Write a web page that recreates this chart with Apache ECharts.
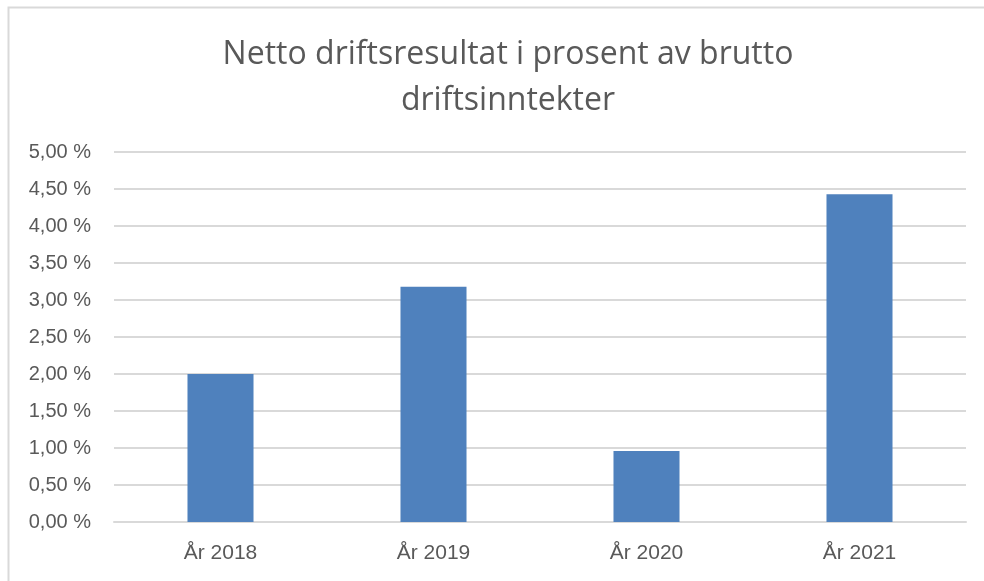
<!DOCTYPE html>
<html>
<head>
<meta charset="utf-8">
<script src="https://cdn.jsdelivr.net/npm/echarts@6/dist/echarts.min.js"></script>
<style>html,body{margin:0;padding:0;background:#fff}#c{width:984px;height:581px}</style>
</head>
<body>
<div id="c"></div>
<script>
const categories = ["År 2018", "År 2019", "År 2020", "År 2021"];
const values = [2.00, 3.18, 0.96, 4.43];
const yTicks = [0, 0.5, 1, 1.5, 2, 2.5, 3, 3.5, 4, 4.5, 5];
const titleText = "Netto driftsresultat i prosent av brutto\ndriftsinntekter";

const chart = echarts.init(document.getElementById('c'), null, {renderer: 'canvas'});
const fmt = v => v.toFixed(2).replace('.', ',') + ' %';
chart.setOption({
  animation: false,
  graphic: [{
    type: 'rect', shape: {x: 8.5, y: 7.5, width: 1000, height: 600},
    style: {fill: 'none', stroke: '#D9D9D9', lineWidth: 2}, silent: true
  }],
  title: {
    text: titleText, left: 503, textAlign: 'center', top: 27,
    textStyle: {fontFamily: 'Open Sans', fontSize: 32, fontWeight: 'normal', color: '#595959', lineHeight: 46}
  },
  grid: {left: 114, right: 18, top: 152, bottom: 59},
  xAxis: {
    type: 'category', data: categories,
    axisLine: {lineStyle: {color: '#D9D9D9', width: 2}},
    axisTick: {show: false},
    axisLabel: {fontFamily: 'Liberation Sans', fontSize: 21, color: '#595959', margin: 21}
  },
  yAxis: {
    type: 'value', min: yTicks[0], max: yTicks[yTicks.length - 1], interval: 0.5,
    axisLine: {show: false}, axisTick: {show: false},
    splitLine: {lineStyle: {color: '#D9D9D9', width: 2}},
    axisLabel: {fontFamily: 'Liberation Sans', fontSize: 20, color: '#595959', margin: 23, formatter: fmt}
  },
  series: [{
    type: 'bar', data: values, barWidth: '31%',
    itemStyle: {color: '#4F81BD'}
  }]
});
</script>
</body>
</html>
